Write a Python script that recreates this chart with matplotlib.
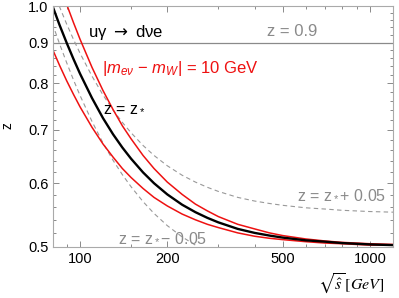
import numpy as np
import matplotlib
matplotlib.use("Agg")
import matplotlib.pyplot as plt
from matplotlib.ticker import FixedLocator, NullFormatter, FixedFormatter

plt.rcParams["font.family"] = ["Liberation Sans", "DejaVu Sans"]
plt.rcParams["mathtext.fontset"] = "custom"
plt.rcParams["mathtext.rm"] = "Liberation Sans"
plt.rcParams["mathtext.it"] = "Liberation Sans:italic"

# sqrt(s) [GeV] and z values
rs_star = [80.4, 85, 90, 95, 100, 110, 120, 130, 140, 150, 165, 180, 200, 225,
           250, 275, 300, 350, 400, 450, 500, 600, 700, 800, 1000, 1200]
z_star = [1.000, 0.947, 0.899, 0.858, 0.823, 0.767, 0.724, 0.691, 0.665, 0.644,
          0.619, 0.600, 0.581, 0.564, 0.552, 0.543, 0.536, 0.526, 0.520, 0.516,
          0.513, 0.509, 0.507, 0.505, 0.503, 0.502]

z_red_lo = [0.883, 0.843, 0.806, 0.775, 0.748, 0.705, 0.672, 0.647, 0.626, 0.610,
            0.591, 0.576, 0.562, 0.549, 0.540, 0.533, 0.528, 0.520, 0.515, 0.512,
            0.510, 0.507, 0.505, 0.504, 0.502, 0.502]

rs_red_hi = [90.4, 95, 100, 110, 120, 130, 140, 150, 165, 180, 200, 225, 250, 275,
             300, 350, 400, 450, 500, 600, 700, 800, 1000, 1200]
z_red_hi = [1.000, 0.953, 0.909, 0.838, 0.784, 0.742, 0.708, 0.682, 0.650, 0.626,
            0.602, 0.581, 0.565, 0.554, 0.545, 0.533, 0.526, 0.520, 0.516, 0.511,
            0.508, 0.506, 0.504, 0.503]

rs_plus = [84.8, 90, 95, 100, 110, 120, 130, 140, 150, 165, 180, 200, 225, 250,
           275, 300, 350, 400, 450, 500, 600, 700, 800, 1000, 1200]
z_plus = [1.000, 0.949, 0.908, 0.873, 0.817, 0.774, 0.741, 0.715, 0.694, 0.669,
          0.650, 0.631, 0.614, 0.602, 0.593, 0.586, 0.576, 0.570, 0.566, 0.563,
          0.559, 0.557, 0.555, 0.553, 0.552]

rs_minus = [80.4, 85, 90, 95, 100, 110, 120, 130, 140, 150, 165, 180, 200, 225, 250, 254]
z_minus = [0.950, 0.897, 0.849, 0.808, 0.773, 0.717, 0.674, 0.641, 0.615, 0.594,
           0.569, 0.550, 0.531, 0.514, 0.502, 0.500]

x_major = [100, 200, 500, 1000]
x_minor = [90, 150, 300, 400, 600, 700, 800, 900]
y_major = [0.5, 0.6, 0.7, 0.8, 0.9, 1.0]
y_minor = [0.52, 0.54, 0.56, 0.58, 0.62, 0.64, 0.66, 0.68, 0.72, 0.74, 0.76, 0.78,
           0.82, 0.84, 0.86, 0.88, 0.92, 0.94, 0.96, 0.98]

W, H = 399, 298
fig = plt.figure(figsize=(W / 100, H / 100), dpi=100)
ax = fig.add_axes([52.5 / W, 1 - 246.5 / H, 340.5 / W, 240.5 / H])

gray = "#8a8a8a"
ax.axhline(0.9, color=gray, lw=0.9)
ax.plot(rs_plus, z_plus, color="#999999", lw=0.8, ls=(0, (4, 3)))
ax.plot(rs_minus, z_minus, color="#999999", lw=0.8, ls=(0, (4, 3)))
ax.plot(rs_star, z_red_lo, color="#ee1111", lw=1.1)
ax.plot(rs_red_hi, z_red_hi, color="#ee1111", lw=1.1)
ax.plot(rs_star, z_star, color="black", lw=1.7)

ax.set_xscale("log")
ax.set_yscale("log")
ax.set_xlim(80.4, 1200)
ax.set_ylim(0.5, 1.0)

ax.xaxis.set_major_locator(FixedLocator(x_major))
ax.xaxis.set_major_formatter(FixedFormatter([str(v) for v in x_major]))
ax.xaxis.set_minor_locator(FixedLocator(x_minor))
ax.xaxis.set_minor_formatter(NullFormatter())
ax.yaxis.set_major_locator(FixedLocator(y_major))
ax.yaxis.set_major_formatter(FixedFormatter([f"{v:.1f}" for v in y_major]))
ax.yaxis.set_minor_locator(FixedLocator(y_minor))
ax.yaxis.set_minor_formatter(NullFormatter())

ax.tick_params(which="both", direction="in", top=True, right=True,
               color=gray, labelsize=10.5, width=0.7)
ax.tick_params(which="major", length=4)
ax.tick_params(which="minor", length=2.5)
ax.tick_params(axis="x", pad=4)
ax.tick_params(axis="y", pad=3)
for sp in ax.spines.values():
    sp.set_color("#aaaaaa")
    sp.set_linewidth(0.8)

# axis labels placed in figure pixels
fig.text(7.5 / W, 1 - 126 / H, "z", fontsize=10, rotation=90,
         ha="center", va="center")
fig.text(351 / W, 1 - 284 / H, r"$\sqrt{\hat{s}}\,[GeV]$", fontsize=11.5,
         math_fontfamily="stix", ha="center", va="center")

ax.text(106.5, 0.914, r"uγ $\rightarrow$ dνe", fontsize=12, color="black",
        va="baseline", math_fontfamily="dejavusans")
ax.text(119, 0.824, r"$|m_{e\nu}$ − $m_W|$ = 10 GeV", fontsize=12,
        color="#ee1111", va="baseline")
ax.text(441, 0.917, "z = 0.9", fontsize=12, color=gray, va="baseline")
ax.text(120, 0.736, r"z = z$_*$", fontsize=11.5, color="black", va="baseline")
ax.text(560, 0.574, r"z = z$_*$+ 0.05", fontsize=11.5, color=gray, va="baseline")
ax.text(135, 0.507, r"z = z$_*$− 0.05", fontsize=11.5, color=gray, va="baseline")

fig.savefig("out.png", dpi=100)
